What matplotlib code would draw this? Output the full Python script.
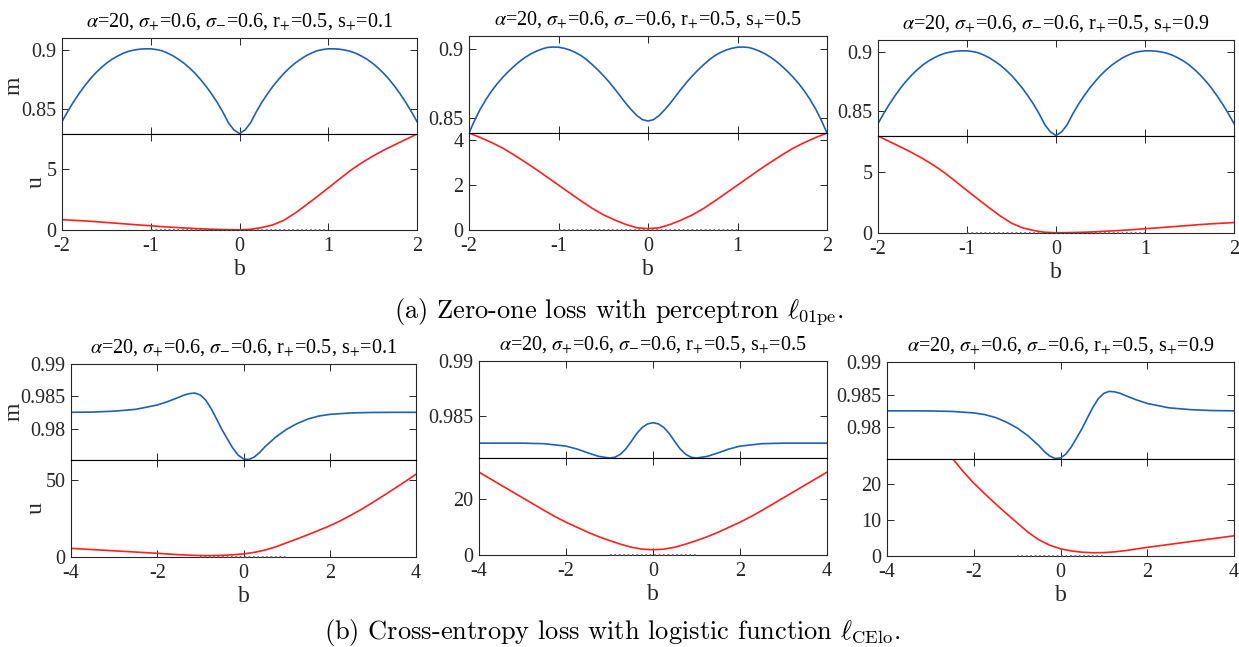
import numpy as np
import matplotlib
matplotlib.use("Agg")
import matplotlib.pyplot as plt

plt.rcParams['font.family'] = ['Liberation Serif', 'DejaVu Serif']
plt.rcParams['mathtext.fontset'] = 'stix'

# ---- data ----
# (a) zero-one loss, b in [-2, 2]
b_m01 = np.linspace(-2, 2, 65)
b_u01 = np.linspace(-2, 2, 33)

m01_s01 = [0.8395, 0.8478, 0.8555, 0.8625, 0.8690, 0.8748, 0.8800, 0.8845, 0.8885,
           0.8918, 0.8945, 0.8968, 0.8985, 0.8996, 0.9003, 0.9006, 0.9006, 0.9000,
           0.8990, 0.8971, 0.8948, 0.8918, 0.8885, 0.8845, 0.8800, 0.8747, 0.8690,
           0.8625, 0.8555, 0.8475, 0.8385, 0.8325,
           0.8295, 0.8325, 0.8385, 0.8475, 0.8555, 0.8625, 0.8690, 0.8747, 0.8800,
           0.8845, 0.8885, 0.8918, 0.8948, 0.8971, 0.8990, 0.9000, 0.9006, 0.9006,
           0.9003, 0.8996, 0.8985, 0.8968, 0.8945, 0.8918, 0.8885, 0.8845, 0.8800,
           0.8748, 0.8690, 0.8625, 0.8555, 0.8478, 0.8395]
u01_s01 = [0.85, 0.80, 0.75, 0.69, 0.62, 0.55, 0.48, 0.41, 0.35, 0.28, 0.22, 0.17,
           0.12, 0.08, 0.05, 0.03, 0.02, 0.06, 0.20, 0.42, 0.80, 1.38, 2.05, 2.75,
           3.46, 4.18, 4.90, 5.52, 6.07, 6.57, 7.02, 7.46, 7.90]

m01_s05 = [0.8388, 0.8479, 0.8560, 0.8629, 0.8690, 0.8743, 0.8790, 0.8832, 0.8870,
           0.8905, 0.8935, 0.8960, 0.8980, 0.8996, 0.9008, 0.9011, 0.9010, 0.9002,
           0.8990, 0.8972, 0.8950, 0.8920, 0.8885, 0.8847, 0.8805, 0.8760, 0.8710,
           0.8658, 0.8605, 0.8557, 0.8515, 0.8485,
           0.8475, 0.8485, 0.8515, 0.8557, 0.8605, 0.8658, 0.8710, 0.8760, 0.8805,
           0.8847, 0.8885, 0.8920, 0.8950, 0.8972, 0.8990, 0.9002, 0.9010, 0.9011,
           0.9008, 0.8996, 0.8980, 0.8960, 0.8935, 0.8905, 0.8870, 0.8832, 0.8790,
           0.8743, 0.8690, 0.8629, 0.8560, 0.8479, 0.8388]
u01_s05 = [4.32, 4.12, 3.90, 3.65, 3.35, 3.03, 2.70, 2.35, 2.00, 1.65, 1.30, 0.97,
           0.68, 0.45, 0.25, 0.10, 0.06, 0.10, 0.25, 0.45, 0.68, 0.97, 1.30, 1.65,
           2.00, 2.35, 2.70, 3.03, 3.35, 3.65, 3.90, 4.12, 4.32]

m01_s09 = [0.8395, 0.8478, 0.8555, 0.8625, 0.8690, 0.8748, 0.8800, 0.8845, 0.8885,
           0.8918, 0.8945, 0.8968, 0.8985, 0.8996, 0.9003, 0.9006, 0.9006, 0.9000,
           0.8990, 0.8971, 0.8948, 0.8918, 0.8885, 0.8845, 0.8800, 0.8747, 0.8690,
           0.8625, 0.8555, 0.8475, 0.8385, 0.8325,
           0.8295, 0.8325, 0.8385, 0.8475, 0.8555, 0.8625, 0.8690, 0.8747, 0.8800,
           0.8845, 0.8885, 0.8918, 0.8948, 0.8971, 0.8990, 0.9000, 0.9006, 0.9006,
           0.9003, 0.8996, 0.8985, 0.8968, 0.8945, 0.8918, 0.8885, 0.8845, 0.8800,
           0.8748, 0.8690, 0.8625, 0.8555, 0.8478, 0.8395]
u01_s09 = [7.90, 7.46, 7.02, 6.57, 6.07, 5.52, 4.90, 4.18, 3.46, 2.75, 2.05, 1.38,
           0.80, 0.42, 0.20, 0.06, 0.02, 0.03, 0.05, 0.08, 0.12, 0.17, 0.22, 0.28,
           0.35, 0.41, 0.48, 0.55, 0.62, 0.69, 0.75, 0.80, 0.85]

# (b) cross-entropy loss, b in [-4, 4]
b_mce_s01 = [-4, -3.5, -3, -2.5, -2, -1.75, -1.5, -1.375, -1.25, -1.125, -1, -0.875,
             -0.75, -0.625, -0.5, -0.375, -0.25, -0.125, 0, 0.125, 0.25, 0.375, 0.5,
             0.75, 1, 1.25, 1.5, 1.75, 2, 2.5, 3, 3.5, 4]
mce_s01 = [0.98252, 0.98256, 0.98270, 0.98298, 0.98365, 0.98420, 0.98485, 0.98520,
           0.98542, 0.98550, 0.98520, 0.98440, 0.98310, 0.98150, 0.97985, 0.97840,
           0.97700, 0.97590, 0.97530, 0.97522, 0.97560, 0.97630, 0.97720, 0.97870,
           0.97990, 0.98080, 0.98150, 0.98195, 0.98220, 0.98243, 0.98250, 0.98252,
           0.98252]

b_mce_s05 = [-4, -3.5, -3, -2.5, -2, -1.75, -1.5, -1.25, -1, -0.875, -0.75, -0.625,
             -0.5, -0.375, -0.25, -0.125, 0, 0.125, 0.25, 0.375, 0.5, 0.625, 0.75,
             0.875, 1, 1.25, 1.5, 1.75, 2, 2.5, 3, 3.5, 4]
mce_s05 = [0.98253, 0.98253, 0.98253, 0.98248, 0.98226, 0.98200, 0.98165, 0.98133,
           0.98118, 0.98125, 0.98152, 0.98200, 0.98268, 0.98340, 0.98395, 0.98428,
           0.98439, 0.98428, 0.98395, 0.98340, 0.98268, 0.98200, 0.98152, 0.98125,
           0.98118, 0.98133, 0.98165, 0.98200, 0.98226, 0.98248, 0.98253, 0.98253,
           0.98253]

b_mce_s09 = [-4, -3.5, -3, -2.5, -2, -1.75, -1.5, -1.25, -1, -0.75, -0.5, -0.375,
             -0.25, -0.125, 0, 0.125, 0.25, 0.375, 0.5, 0.625, 0.75, 0.875, 1, 1.125,
             1.25, 1.375, 1.5, 1.75, 2, 2.5, 3, 3.5, 4]
mce_s09 = [0.98252, 0.98252, 0.98250, 0.98243, 0.98220, 0.98195, 0.98150, 0.98080,
           0.97990, 0.97870, 0.97720, 0.97630, 0.97560, 0.97522, 0.97530, 0.97590,
           0.97700, 0.97840, 0.97985, 0.98150, 0.98310, 0.98440, 0.98520, 0.98550,
           0.98542, 0.98520, 0.98485, 0.98420, 0.98365, 0.98298, 0.98270, 0.98256,
           0.98252]

b_uce = np.linspace(-4, 4, 33)
uce_s01 = [5.6, 5.2, 4.8, 4.4, 4.0, 3.6, 3.2, 2.8, 2.4, 1.95, 1.5, 1.15, 0.95, 0.9,
           1.05, 1.4, 2.0, 3.0, 4.5, 6.6, 9.2, 11.8, 14.5, 17.3, 20.2, 23.5, 27.2,
           31.1, 35.4, 39.8, 44.3, 48.9, 53.6]
uce_s05 = [29.8, 27.5, 25.2, 22.9, 20.6, 18.3, 16.0, 13.8, 11.8, 10.0, 8.2, 6.6, 5.2,
           3.9, 2.8, 2.1, 1.9, 2.1, 2.8, 3.9, 5.2, 6.6, 8.2, 10.0, 11.8, 13.8, 16.0,
           18.3, 20.6, 22.9, 25.2, 27.5, 29.8]
uce_s09 = [53.6, 48.9, 44.3, 39.8, 35.4, 31.1, 27.2, 23.5, 20.2, 17.3, 14.5, 11.8,
           9.2, 6.6, 4.5, 3.0, 2.0, 1.4, 1.05, 0.9, 0.95, 1.15, 1.5, 1.95, 2.4, 2.8,
           3.2, 3.6, 4.0, 4.4, 4.8, 5.2, 5.6]

s_values = ['0.1', '0.5', '0.9']

# ---- figure ----
W, H = 1239, 647
fig = plt.figure(figsize=(W / 100, H / 100), dpi=100)

def px(l, r, t, b):
    return [l / W, 1 - b / H, (r - l) / W, (b - t) / H]

# panel boxes in pixels: left, right, top, middle, bottom
boxes = [
    (62, 417, 38, 134, 230), (469, 827, 36, 133, 230), (878, 1234, 40, 136, 233),
    (71, 416, 364, 460, 557), (479, 827, 361, 458, 555), (887, 1234, 362, 459, 556),
]

panels = [
    (b_m01, m01_s01, b_u01, u01_s01, (0.8291, 0.9097), (0, 7.9), [0.85, 0.9], [0, 5]),
    (b_m01, m01_s05, b_u01, u01_s05, (0.8388, 0.9091), (0, 4.32), [0.85, 0.9], [0, 2, 4]),
    (b_m01, m01_s09, b_u01, u01_s09, (0.8291, 0.9097), (0, 7.9), [0.85, 0.9], [0, 5]),
    (b_mce_s01, mce_s01, b_uce, uce_s01, (0.97514, 0.99), (0, 62.8), [0.98, 0.985, 0.99], [0, 50]),
    (b_mce_s05, mce_s05, b_uce, uce_s05, (0.98118, 0.99), (0, 34.9), [0.985, 0.99], [0, 20]),
    (b_mce_s09, mce_s09, b_uce, uce_s09, (0.97514, 0.99), (0, 26.9), [0.98, 0.985, 0.99], [0, 10, 20]),
]

blue = '#2060b4'
grey = '0.15'

def style(ax):
    for sp in ax.spines.values():
        sp.set_color(grey)
        sp.set_linewidth(0.8)
    ax.tick_params(direction='in', top=True, right=True, length=5, width=0.7,
                   colors=grey, labelsize=14.5, labelcolor=grey)
    ax.tick_params(axis='x', pad=5)
    ax.tick_params(axis='y', pad=4)

for i, ((l, r, t, mid, bot), (bm, mv, bu, uv, mlim, ulim, mt, ut)) in enumerate(zip(boxes, panels)):
    xmax = 2 if i < 3 else 4
    ax_m = fig.add_axes(px(l, r, t, mid))
    ax_u = fig.add_axes(px(l, r, mid, bot))

    ax_m.plot(bm, mv, color=blue, lw=1.2)
    ax_u.plot(bu, uv, color='#ff2020', lw=1.2)
    ax_u.plot([-1, 1], [0, 0], color='0.35', lw=1.2, ls=':', clip_on=False, zorder=3)

    ax_m.set_xlim(-xmax, xmax)
    ax_u.set_xlim(-xmax, xmax)
    ax_m.set_ylim(*mlim)
    ax_u.set_ylim(*ulim)
    ax_m.set_yticks(mt)
    ax_m.set_yticklabels([('%g' % v) for v in mt])
    ax_u.set_yticks(ut)
    if i < 3:
        xt = [-2, -1, 0, 1, 2]
    else:
        xt = [-4, -2, 0, 2, 4]
    ax_m.set_xticks(xt)
    ax_u.set_xticks(xt)
    ax_m.set_xticklabels([])
    ax_u.set_xticklabels([str(v) for v in xt])
    style(ax_m)
    style(ax_u)
    ax_m.spines['bottom'].set_color('black')
    ax_u.spines['top'].set_color('black')

    ax_u.set_xlabel('b', fontsize=17, color=grey, labelpad=2)
    if i % 3 == 0:
        w = r - l
        ax_m.set_ylabel('m', fontsize=17, color=grey)
        ax_u.set_ylabel('u', fontsize=17, color=grey)
        ax_m.yaxis.set_label_coords((25 - l) / w, 0.5)
        ax_u.yaxis.set_label_coords((47 - l) / w, 0.5)

    s = s_values[i % 3]
    ax_m.set_title(r'$\alpha$=20, $\sigma_{+}$=0.6, $\sigma_{-}$=0.6, r$_{+}$=0.5, s$_{+}$=' + s,
                   fontsize=14.5, pad=8, color='black')

fig.text(0.4992, 1 - 312 / H, '(a) Zero-one loss with perceptron ' + r'$\ell_{\mathrm{01pe}}$' + '.',
         fontsize=19, family='cmr10', math_fontfamily='cm', ha='center', va='center')
fig.text(0.4944, 1 - 633 / H, '(b) Cross-entropy loss with logistic function ' + r'$\ell_{\mathrm{CElo}}$' + '.',
         fontsize=19, family='cmr10', math_fontfamily='cm', ha='center', va='center')

fig.savefig('out.png', dpi=100)
